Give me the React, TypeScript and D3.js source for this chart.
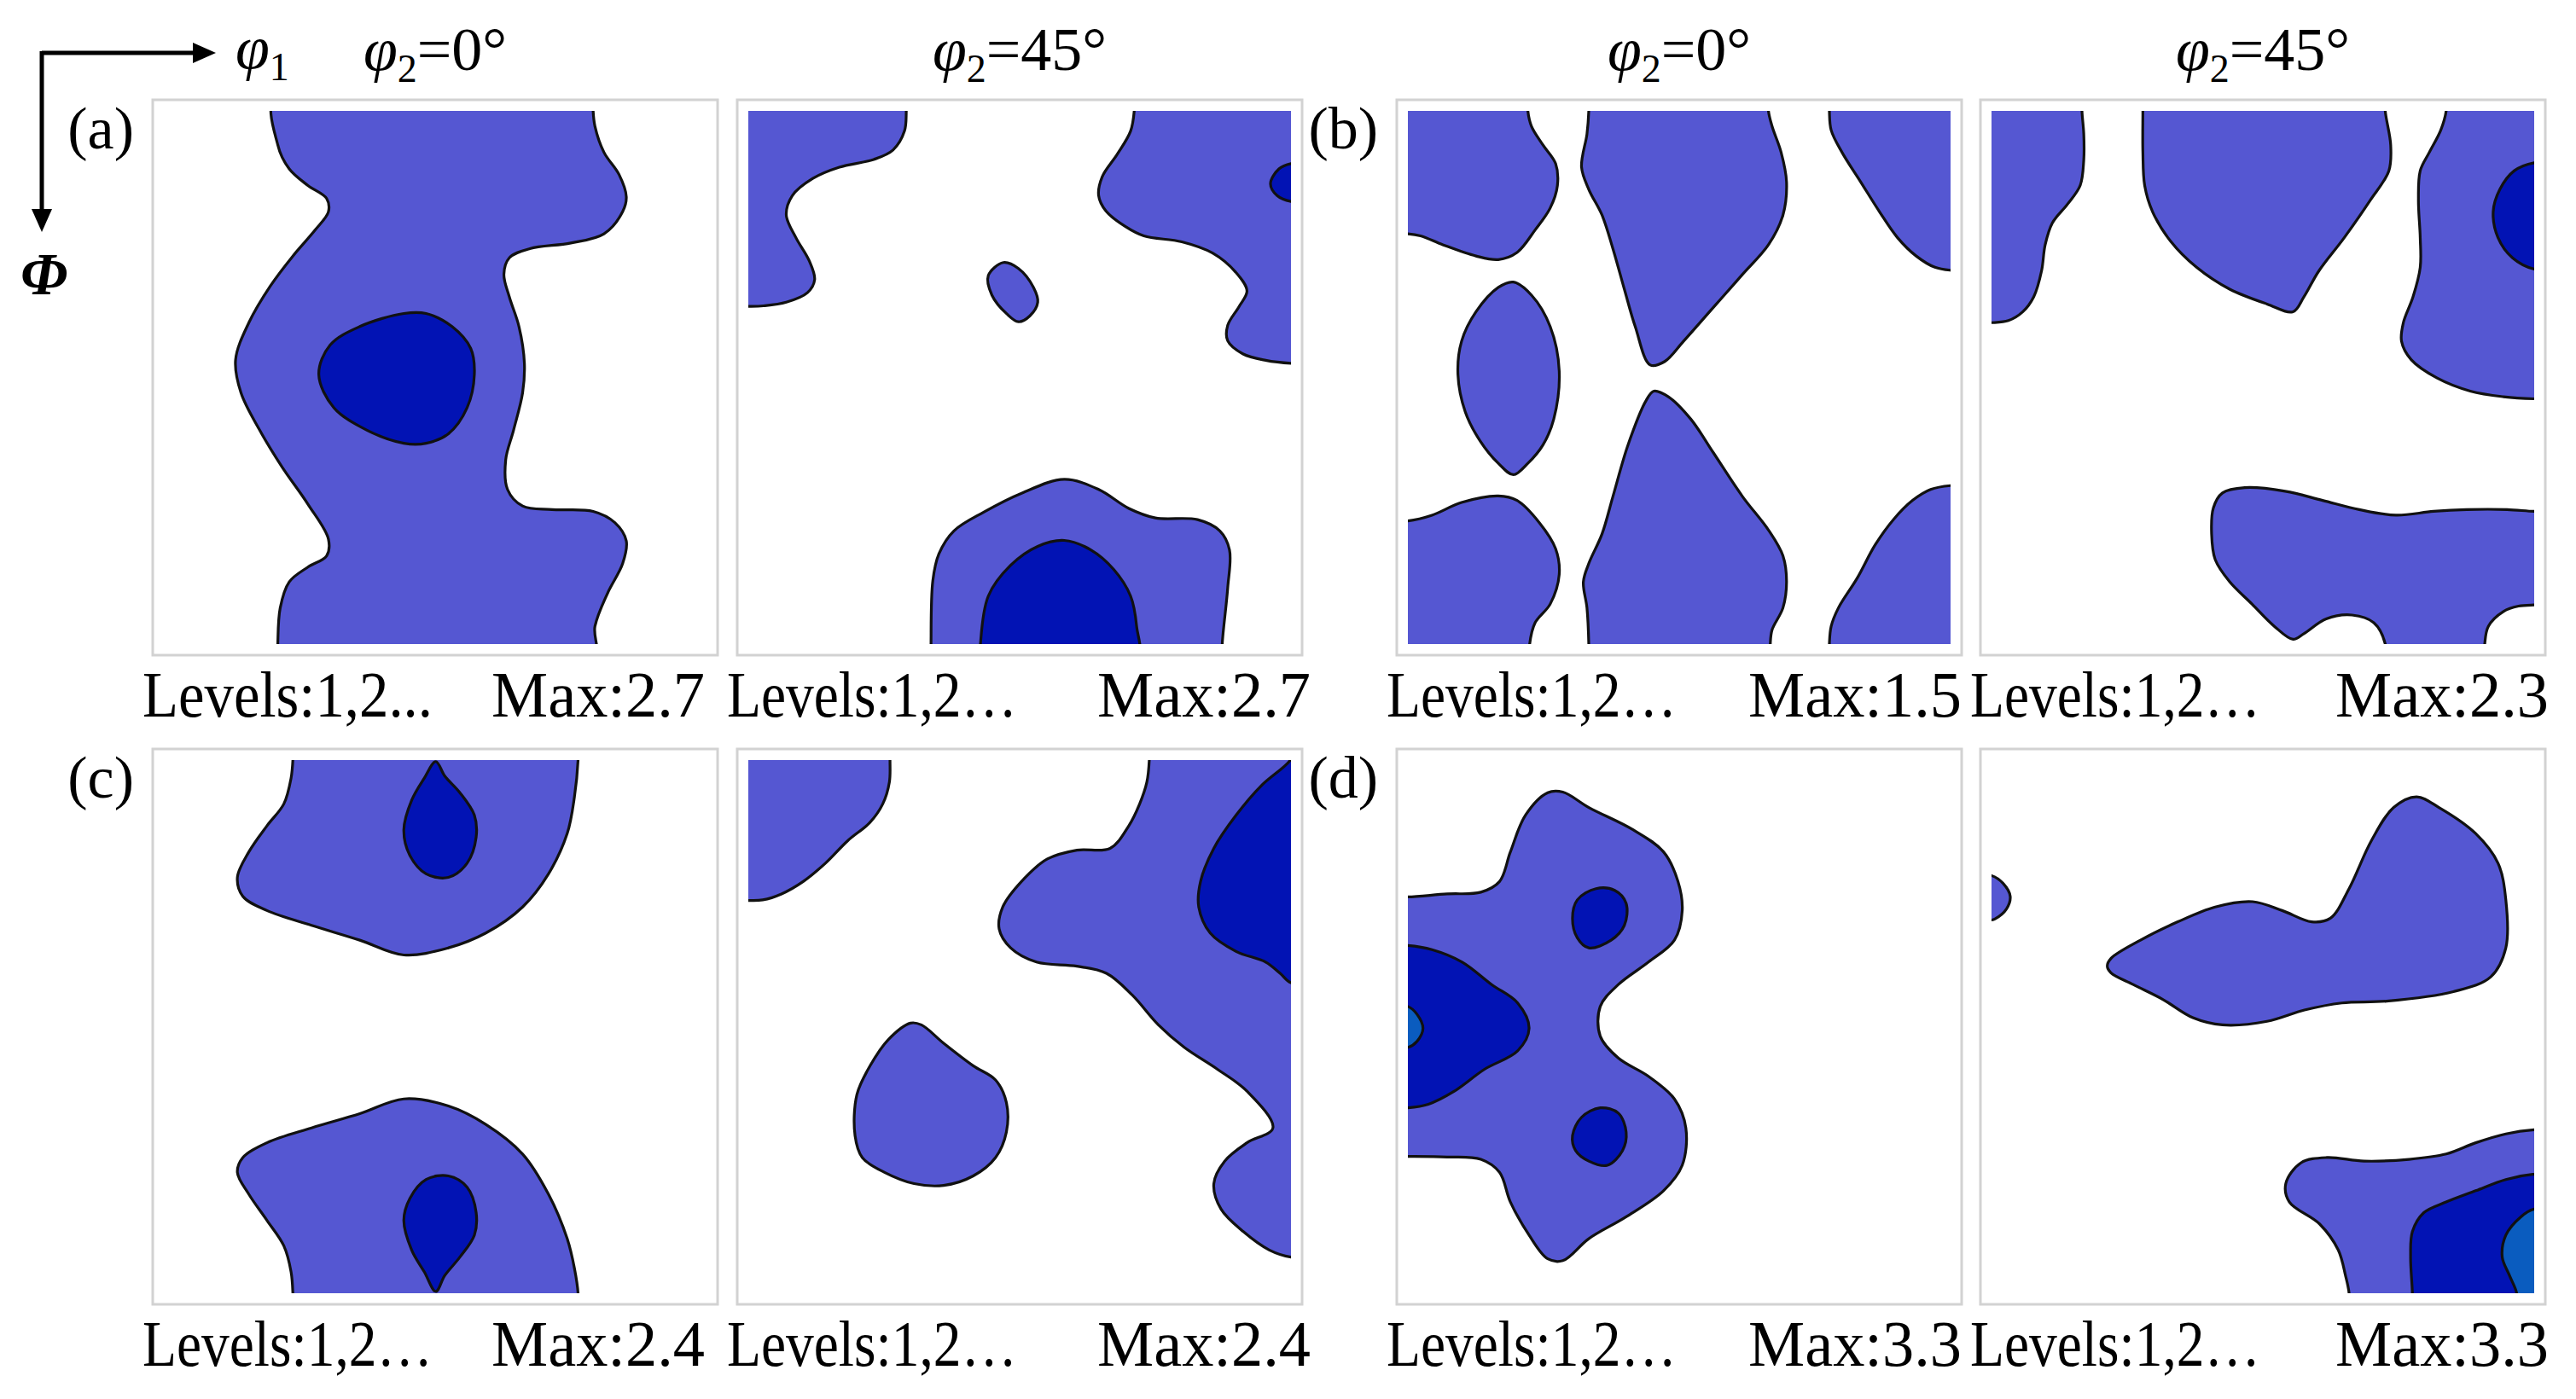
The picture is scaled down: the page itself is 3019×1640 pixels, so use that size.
import * as d3 from "d3";

type Pt = [number, number];

// phi1 (x) and Phi (y) in degrees, 0..90 for every section; points just outside 0..90 are clipped away
const a1Level1: Pt[] = [[18.7,-3],[18.9,5.75],[20.8,9.8],[23.9,12.6],[27.0,14.8],[27.3,17.0],[25.1,20.1],[21.4,24.5],[17.7,29.5],[14.1,35.75],[11.9,42],[12.8,47.6],[15.9,53.9],[19.6,60.1],[23.9,66.4],[27.3,72.3],[27.0,75.1],[23.9,77],[20.8,79.5],[19.3,83.9],[18.9,90],[18.9,93],[71.2,93],[71.5,87],[73.6,81.4],[76.1,76.4],[76.7,72.6],[74.8,69.5],[71.2,67.6],[64.4,67.3],[59.5,66.7],[57.0,63.9],[56.7,58.9],[58.0,53.9],[59.5,47.6],[59.8,42.6],[58.9,36.4],[57.3,31.4],[56.4,27.6],[57.3,24.8],[60.7,23.25],[67.5,22.3],[73.0,20.75],[76.1,17],[76.7,14.5],[75.5,10.75],[73.0,7],[71.5,2.6],[71.2,0],[71.2,-3]];
const a1Level2: Pt[] = [[25.7,44.5],[27.6,39.5],[32.5,36.4],[39.8,34.2],[43.5,34.2],[47.8,36.4],[50.9,40.1],[51.5,44.5],[50.3,50.1],[47.2,54.5],[43.5,56.1],[39.8,56.1],[33.7,53.9],[28.2,50.1]];

const a2Level1A: Pt[] = [[26.2,-3],[26.2,0],[25.9,3.4],[24.0,6.6],[20.8,8.2],[15.1,9.5],[10.7,11.4],[7.3,14.3],[6.3,17.6],[7.9,21.4],[10.1,25.3],[11.0,28.5],[9.8,30.7],[6.3,32.3],[2.5,32.9],[0,33],[-3,33],[-3,-3]];
const a2Level1B: Pt[] = [[39.8,27.8],[42.3,25.6],[44.8,26.6],[47.3,29.8],[48.0,32.3],[46.7,34.6],[44.8,35.6],[42.9,34.3],[40.4,31.1]];
const a2Level1C: Pt[] = [[64.0,-3],[64.0,0],[63.4,3.4],[61.2,7.3],[58.7,11.1],[58.1,14.3],[59.3,16.9],[62.5,19.5],[65.6,21.1],[71.9,22.1],[77.0,24.0],[80.8,27.2],[82.7,30.4],[81.4,33.0],[79.5,36.2],[79.5,38.8],[82.0,41.0],[85.8,42.1],[90,42.6],[93,42.6],[93,-3]];
const a2Level1D: Pt[] = [[30.3,93],[30.3,90],[30.6,79.3],[31.6,74.8],[34.1,70.9],[39.1,67.7],[45.4,64.5],[52.4,62.2],[58.1,63.9],[63.1,67.1],[67.5,68.7],[74.5,69.0],[78.2,70.9],[79.8,74.1],[79.5,80.6],[78.6,90],[78.6,93]];
const a2Level2A: Pt[] = [[90,8.9],[88.0,9.8],[86.6,12.3],[87.7,14.3],[90,15.3],[93,15.3],[93,8.9]];
const a2Level2B: Pt[] = [[38.5,93],[38.5,90],[39.8,81.9],[43.5,76.7],[48.0,73.5],[52.4,72.5],[56.8,74.1],[60.6,77.4],[63.4,81.9],[64.4,87],[64.4,93]];

const b1Level1A: Pt[] = [[19.9,-3],[19.9,0],[20.5,2.6],[22.4,5.75],[24.5,8.9],[24.8,12.6],[23.6,16.4],[21.1,20.1],[18.1,23.9],[15.0,25.1],[11.3,24.5],[5.8,22.6],[2.1,21.1],[0,20.75],[-3,20.75],[-3,-3]];
const b1Level1B: Pt[] = [[30.0,-3],[30.0,0],[29.7,3.9],[28.8,9.5],[30.0,13.25],[32.2,17.6],[34.0,23.25],[35.9,30.1],[37.7,36.4],[40.2,42.9],[42.6,42.3],[45.7,38.9],[50.6,33.25],[55.5,27.6],[59.8,22.6],[62.2,17.6],[62.8,12],[61.9,7],[60.4,2.6],[59.8,0],[59.8,-3]];
const b1Level1C: Pt[] = [[69.9,-3],[69.9,0],[70.2,3.25],[72.0,7],[75.1,12],[78.2,17],[81.2,21.4],[84.3,24.5],[87.4,26.4],[90,26.9],[93,26.9],[93,-3]];
const b1Level1D: Pt[] = [[8.3,44.5],[8.9,38.9],[11.3,33.9],[15.0,29.8],[17.5,28.9],[20.5,31.1],[23.6,36.4],[25.1,43.9],[24.2,52],[22.4,56.4],[19.9,59.5],[17.5,61.4],[15.0,59.5],[12.0,55.75],[9.5,50.75]];
const b1Level1E: Pt[] = [[0,69.2],[4.0,68.25],[8.9,66.1],[15.0,65],[18.1,65.75],[21.8,69.5],[24.5,73.9],[25.1,78.25],[23.6,83.25],[21.1,86.4],[20.2,90],[20.2,93],[-3,93],[-3,69.2]];
const b1Level1F: Pt[] = [[30.0,93],[30.0,90],[29.7,83.9],[29.1,79.5],[30.0,76.4],[32.2,71.4],[34.0,65.1],[36.5,56.4],[39.5,48.9],[40.8,47.3],[43.2,48.25],[46.9,52],[50.6,57.6],[55.5,65.1],[59.8,70.75],[62.2,75.1],[62.8,79.5],[62.2,83.9],[60.4,87.6],[60.1,90],[60.1,93]];
const b1Level1G: Pt[] = [[93,63.25],[90,63.25],[86.7,63.9],[83.7,65.75],[80.6,68.9],[77.5,73.25],[74.5,78.9],[71.4,83.9],[70.2,87],[69.9,90],[69.9,93],[93,93]];

const b2Level1A: Pt[] = [[15.0,-3],[15.0,0],[15.3,3.9],[15.3,8.25],[14.7,12.6],[12.6,15.75],[10.1,18.9],[8.9,22.6],[8.3,27],[7.0,31.4],[5.2,33.9],[2.8,35.4],[0,35.75],[-3,35.75],[-3,-3]];
const b2Level1B: Pt[] = [[25.1,-3],[25.1,0],[25.1,7],[25.4,12.6],[26.7,17],[29.7,22],[34.0,26.4],[39.5,30.1],[45.7,32.6],[50.0,33.9],[51.8,31.4],[54.3,27],[58.5,21.4],[62.8,15.1],[65.9,10.1],[66.2,5.75],[65.3,0],[65.3,-3]];
const b2Level1C: Pt[] = [[75.4,-3],[75.4,0],[74.5,3.25],[72.6,7],[71.1,10.1],[70.8,15.1],[71.1,21.4],[71.1,26.4],[69.9,31.4],[68.3,35.75],[68.0,38.9],[69.6,42],[73.9,45.1],[79.4,47.3],[84.9,48.25],[90,48.6],[93,48.6],[93,-3]];
const b2Level1D: Pt[] = [[93,67.6],[90,67.6],[85.5,67.3],[78.8,67.3],[73.3,67.6],[67.1,68.25],[61.0,67.3],[54.9,65.75],[48.7,64.2],[42.0,63.6],[38.3,64.5],[36.8,67],[36.5,71.4],[37.1,75.75],[39.5,79.5],[43.2,83.25],[46.9,87],[50.0,89.2],[51.8,88.25],[55.5,85.75],[59.8,85.1],[63.4,86.4],[65.3,90],[65.3,93],[81.8,93],[81.8,90],[82.4,87],[84.9,84.5],[87.4,83.6],[90,83.4],[93,83.4]];
const b2Level2A: Pt[] = [[93,8.75],[90,8.75],[86.7,10.1],[84.3,13.25],[83.2,17],[84.0,21.4],[86.4,24.8],[90,26.7],[93,26.7]];

const c1Level1A: Pt[] = [[21.4,-3],[21.4,0],[21.1,3.05],[19.9,7.4],[17.1,11.1],[14.1,15.5],[12.2,19.8],[13.1,23],[17.1,25.4],[24.5,27.9],[32.5,30.4],[39.8,32.9],[47.2,31.7],[53.4,29.2],[59.5,24.8],[63.8,19.2],[66.9,12.4],[68.1,6.2],[68.7,0],[68.7,-3]];
const c1Level1B: Pt[] = [[21.4,93],[21.4,90],[21.1,86.4],[19.9,82.0],[17.1,77.7],[14.1,73.3],[12.2,69.6],[13.1,67.1],[17.1,64.6],[24.5,62.1],[32.5,59.7],[39.8,57.2],[47.2,58.4],[53.4,61.5],[59.5,66.5],[63.8,73.3],[66.9,80.8],[68.1,85.8],[68.7,90],[68.7,93]];
const c1Level2A: Pt[] = [[45.1,0.25],[46.6,2.7],[49.1,5.5],[51.5,9.3],[51.8,13],[50.3,17.4],[47.2,19.8],[43.5,19.2],[40.8,16.1],[39.8,11.8],[41.1,6.8],[43.2,3.05]];
const c1Level2B: Pt[] = [[45.1,89.7],[46.6,87.0],[49.1,83.9],[51.5,80.2],[51.8,76.4],[50.3,72.1],[47.2,70.2],[43.5,70.8],[40.8,74],[39.8,77.7],[41.1,82.7],[43.2,86.4]];

const c2Level1A: Pt[] = [[23.5,-3],[23.5,0],[23.4,3.7],[22.3,7.4],[20.2,10.5],[16.5,13.6],[12.8,17.4],[9.1,20.5],[5.5,22.6],[2.4,23.6],[0,23.7],[-3,23.7],[-3,-3]];
const c2Level1B: Pt[] = [[66.5,-3],[66.5,0],[66.1,3.7],[64.9,7.4],[63.1,11.1],[60.0,14.9],[54.5,15.2],[49.6,16.7],[45.3,20.5],[42.2,24.8],[41.6,28.5],[43.5,31.7],[47.8,34.1],[54.5,34.8],[59.4,36],[63.7,39.7],[68.0,44.7],[72.3,48.5],[77.8,52.2],[82.7,55.9],[87.0,62.1],[82.7,64.6],[79.0,67.7],[77.2,71.5],[78.4,75.8],[82.1,79.6],[86.4,82.7],[90,83.9],[93,83.9],[93,-3]];
const c2Level1C: Pt[] = [[18.0,56.5],[20.2,51.6],[23.2,47.2],[26.9,44.4],[28.7,44.7],[32.4,47.8],[37.3,51.6],[41.0,54],[42.8,57.8],[42.8,62.8],[41.0,67.1],[37.3,70.2],[32.4,71.8],[27.5,71.5],[22.6,69.6],[18.9,67.1],[17.7,63.4]];
const c2Level2A: Pt[] = [[89.7,0.25],[85.1,4.3],[80.9,9.3],[77.2,14.9],[75.0,20.5],[74.7,24.8],[76.6,29.2],[80.9,32.3],[85.8,34.1],[88.2,36],[90,37.6],[93,37.6],[93,-3],[91,-2]];

const d1Level1: Pt[] = [[0,23.1],[6.5,22.6],[12.1,22.3],[15.2,20.5],[17.0,15.5],[19.5,9.3],[23.2,5.5],[25.7,5.4],[30.0,8.0],[37.4,11.8],[42.4,15.5],[44.8,20.5],[45.5,25.4],[44.2,30.4],[39.9,34.1],[34.9,37.9],[31.9,41.6],[31.9,46.6],[34.9,50.3],[39.9,53.4],[44.2,57.2],[46.1,62.1],[45.5,68.4],[42.4,72.7],[36.2,77.1],[30.0,80.8],[25.7,84.5],[23.2,84.2],[20.1,80.2],[17.0,74.6],[15.2,69.6],[12.1,67.4],[6.5,67],[0,66.9],[-3,66.9],[-3,23.1]];
const d1Level2A: Pt[] = [[27.3,26.7],[28.1,23.6],[31.2,21.7],[34.3,22.0],[36.2,24.2],[35.9,27.9],[33.7,30.4],[30.0,31.7],[28.1,30.0]];
const d1Level2B: Pt[] = [[27.3,63.4],[28.8,60.3],[31.9,58.7],[34.9,59.6],[36.2,62.8],[35.6,65.9],[33.1,68.4],[30.0,67.7],[27.8,65.9]];
const d1Level2C: Pt[] = [[0,31.3],[4.0,32],[9.0,34.1],[13.9,37.9],[18.2,41],[20.1,45.3],[18.2,49.1],[12.7,52.2],[7.7,55.9],[3.4,58.1],[0,58.7],[-3,58.7],[-3,31.3]];
const d1Level3: Pt[] = [[0,41.6],[1.5,42.9],[2.5,45.3],[1.5,47.5],[0,48.5],[-3,48.5],[-3,41.6]];

const d2Level1A: Pt[] = [[0,19.5],[1.9,20.8],[3.1,23],[2.5,25.1],[0.6,26.8],[0,27],[-3,27],[-3,19.5]];
const d2Level1B: Pt[] = [[19.2,34.8],[19.8,33.5],[24.7,30.4],[30.9,27.3],[37.1,24.8],[43.3,23.9],[48.2,25.4],[53.1,27.3],[56.2,26.7],[59.3,21.7],[63.0,13.6],[66.7,8.0],[70.5,6.2],[74.2,8.0],[80.3,12.4],[84.0,17.4],[85.3,23.6],[85.3,31.7],[82.8,36.6],[76.6,39.1],[65.5,40.7],[58.1,41.0],[51.9,42.2],[45.7,44.1],[38.3,44.7],[33.4,43.5],[28.4,40.4],[23.5,37.9],[19.8,35.9]];
const d2Level1C: Pt[] = [[93,62.4],[90,62.4],[85.3,63.1],[80.3,64.6],[75.4,66.5],[69.2,67.4],[61.8,67.7],[55.6,67.1],[51.3,68.0],[48.8,71.5],[49.4,74.6],[54.4,78.3],[57.5,82.7],[58.7,87.0],[59.3,90],[59.3,93],[93,93]];
const d2Level2: Pt[] = [[93,69.9],[90,69.9],[85.3,70.8],[80.3,72.7],[75.4,74.6],[71.7,76.4],[69.8,79.6],[69.5,83.9],[69.8,90],[69.8,93],[93,93]];
const d2Level3: Pt[] = [[93,75.8],[90,75.8],[87.8,77.1],[85.3,80.2],[84.7,83.9],[85.9,87],[87.1,90],[87.1,93],[93,93]];

const sectionTitles = ["0°", "45°", "0°", "45°"];
const panelLetters = ["(a)", "(b)", "(c)", "(d)"];
const maxValues = ["2.7", "2.7", "1.5", "2.3", "2.4", "2.4", "3.3", "3.3"];
const levelText = ["Levels:1,2...", "Levels:1,2…", "Levels:1,2…", "Levels:1,2…", "Levels:1,2…", "Levels:1,2…", "Levels:1,2…", "Levels:1,2…"];

const levelColors = ["#5557d2", "#0213b4", "#0a5cbf"];

const panelContours: { level: number; pts: Pt[] }[][] = [
  [{ level: 0, pts: a1Level1 }, { level: 1, pts: a1Level2 }],
  [
    { level: 0, pts: a2Level1A }, { level: 0, pts: a2Level1B }, { level: 0, pts: a2Level1C }, { level: 0, pts: a2Level1D },
    { level: 1, pts: a2Level2A }, { level: 1, pts: a2Level2B },
  ],
  [
    { level: 0, pts: b1Level1A }, { level: 0, pts: b1Level1B }, { level: 0, pts: b1Level1C }, { level: 0, pts: b1Level1D },
    { level: 0, pts: b1Level1E }, { level: 0, pts: b1Level1F }, { level: 0, pts: b1Level1G },
  ],
  [
    { level: 0, pts: b2Level1A }, { level: 0, pts: b2Level1B }, { level: 0, pts: b2Level1C }, { level: 0, pts: b2Level1D },
    { level: 1, pts: b2Level2A },
  ],
  [
    { level: 0, pts: c1Level1A }, { level: 0, pts: c1Level1B }, { level: 1, pts: c1Level2A }, { level: 1, pts: c1Level2B },
  ],
  [
    { level: 0, pts: c2Level1A }, { level: 0, pts: c2Level1B }, { level: 0, pts: c2Level1C }, { level: 1, pts: c2Level2A },
  ],
  [
    { level: 0, pts: d1Level1 }, { level: 1, pts: d1Level2A }, { level: 1, pts: d1Level2B }, { level: 1, pts: d1Level2C },
    { level: 2, pts: d1Level3 },
  ],
  [
    { level: 0, pts: d2Level1A }, { level: 0, pts: d2Level1B }, { level: 0, pts: d2Level1C }, { level: 1, pts: d2Level2 },
    { level: 2, pts: d2Level3 },
  ],
];

// layout
const W = 3019;
const H = 1640;
const colX = [179, 864, 1637, 2321];
const rowY = [117, 878];
const frameW = 662;
const frameH = 651;
const inset = 13;
const maxShift = [-15, 10, 0, 4]; // "Max" label right edge vs frame, per column
const font = "'Liberation Serif', 'Times New Roman', serif";

function Panel({ idx }: { idx: number }) {
  const row = Math.floor(idx / 4);
  const col = idx % 4;
  const fx = colX[col];
  const fy = rowY[row];
  const ix = fx + inset;
  const iy = fy + inset;
  const iw = frameW - 2 * inset;
  const ih = frameH - 2 * inset;

  const x = d3.scaleLinear().domain([0, 90]).range([ix, ix + iw]);
  const y = d3.scaleLinear().domain([0, 90]).range([iy, iy + ih]);
  const line = d3
    .line<Pt>()
    .x((d) => x(d[0]))
    .y((d) => y(d[1]))
    .curve(d3.curveCatmullRomClosed.alpha(0.5));

  const clipId = `clip-${idx}`;
  const base = fy + frameH + 72;

  return (
    <g>
      <rect x={fx} y={fy} width={frameW} height={frameH} fill="#fff" stroke="#d2d2d2" strokeWidth={3} />
      <clipPath id={clipId}>
        <rect x={ix} y={iy} width={iw} height={ih} />
      </clipPath>
      <g clipPath={`url(#${clipId})`}>
        {panelContours[idx].map((c, i) => (
          <path
            key={i}
            d={line(c.pts) || ""}
            fill={levelColors[c.level]}
            stroke="#111"
            strokeWidth={3.2}
            strokeLinejoin="round"
          />
        ))}
      </g>
      <text x={fx - 12} y={base} fontFamily={font} fontSize={76} textLength={340} lengthAdjust="spacingAndGlyphs">
        {levelText[idx]}
      </text>
      <text
        x={fx + frameW + maxShift[col]}
        y={base}
        fontFamily={font}
        fontSize={76}
        textAnchor="end"
        textLength={250}
        lengthAdjust="spacingAndGlyphs"
      >
        {"Max:" + maxValues[idx]}
      </text>
    </g>
  );
}

export default function App() {
  return (
    <svg width={W} height={H} style={{ position: "absolute", left: 0, top: 0, background: "#fff" }}>
      <rect x={0} y={0} width={W} height={H} fill="#fff" />
      {/* axis direction key */}
      <line x1={49} y1={62} x2={232} y2={62} stroke="#000" strokeWidth={5} />
      <polygon points="253,62 226,50 226,74" fill="#000" />
      <line x1={49} y1={60} x2={49} y2={250} stroke="#000" strokeWidth={5} />
      <polygon points="49,272 37,245 61,245" fill="#000" />
      <text x={276} y={80} fontFamily={font} fontSize={72}>
        <tspan fontStyle="italic">φ</tspan>
        <tspan fontSize={46} dy={14}>1</tspan>
      </text>
      <text x={24} y={345} fontFamily={font} fontSize={70} fontStyle="italic" fontWeight="bold">
        Φ
      </text>

      {sectionTitles.map((t, i) => (
        <text key={i} x={colX[i] + frameW / 2} y={82} fontFamily={font} fontSize={72} textAnchor="middle">
          <tspan fontStyle="italic">φ</tspan>
          <tspan fontSize={46} dy={14}>2</tspan>
          <tspan dy={-14}>{"=" + t}</tspan>
        </text>
      ))}

      {panelLetters.map((l, i) => (
        <text
          key={l}
          x={colX[(i % 2) * 2] - 22}
          y={rowY[Math.floor(i / 2)] + 57}
          fontFamily={font}
          fontSize={70}
          textAnchor="end"
        >
          {l}
        </text>
      ))}

      {panelContours.map((_, i) => (
        <Panel key={i} idx={i} />
      ))}
    </svg>
  );
}
